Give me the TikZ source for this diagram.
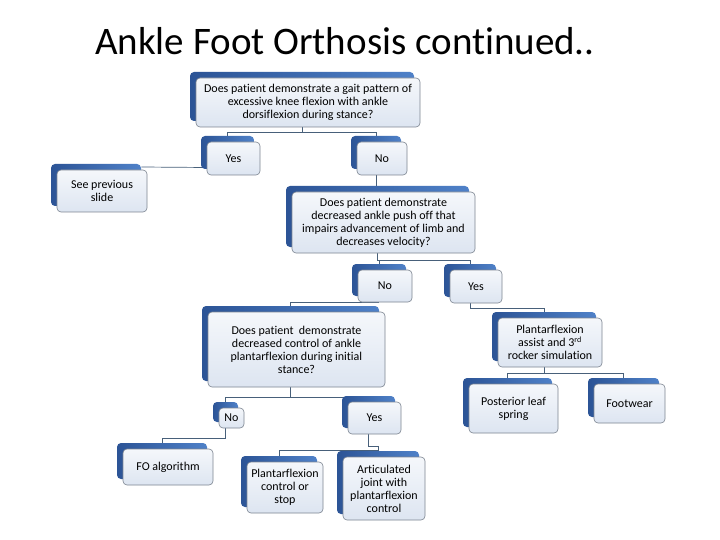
\documentclass[tikz,border=0pt]{standalone}
\usepackage{fontspec}
\setmainfont{Carlito}[Ligatures=NoCommon]
\usepackage{tikz}
\usetikzlibrary{shadows,backgrounds}
\definecolor{backblue}{RGB}{79,129,200}
\definecolor{darkblue}{RGB}{44,84,150}
\definecolor{paleblue}{RGB}{221,229,241}
\definecolor{rimgray}{RGB}{125,133,145}
\definecolor{linkgray}{RGB}{72,96,122}

\begin{document}
\begin{tikzpicture}[x=1pt,y=-1pt,
    box/.style={draw=rimgray, line width=0.6pt, rounded corners=4pt,
      top color=white!70!paleblue, bottom color=paleblue, align=center, inner sep=2pt,
      font=\fontsize{12}{13}\selectfont,
      general shadow={shadow xshift=-6pt, shadow yshift=6pt, left color=darkblue, right color=backblue, draw=none}},
    link/.style={draw=linkgray, line width=0.7pt}]
    \useasboundingbox (0,0) rectangle (720,540);
    \node[font=\fontsize{39}{44}\selectfont, anchor=base] (title) at (345,55) {Ankle Foot Orthosis continued..};

    \node[box, minimum width=224pt, minimum height=49pt] (q1) at (308,102.5) {Does patient demonstrate a gait pattern of\\excessive knee flexion with ankle\\dorsiflexion during stance?};
    \node[box, minimum width=53pt, minimum height=33pt] (yes1) at (233.5,158.5) {Yes};
    \node[box, minimum width=50pt, minimum height=33pt] (no1) at (382,158.5) {No};
    \node[box, minimum width=90pt, minimum height=42pt] (prev) at (102,191) {See previous\\slide};
    \node[box, minimum width=183pt, minimum height=61pt] (q2) at (383.5,222.5) {Does patient demonstrate\\decreased ankle push off that\\impairs advancement of limb and\\decreases velocity?};
    \node[box, minimum width=54pt, minimum height=32pt] (no2) at (385,286) {No};
    \node[box, minimum width=52pt, minimum height=33pt] (yes2) at (476,286.5) {Yes};
    \node[box, minimum width=104pt, minimum height=49pt] (plant) at (550,342.5) {Plantarflexion\\assist and 3\textsuperscript{rd}\\rocker simulation};
    \node[box, minimum width=177pt, minimum height=75pt] (q3) at (296.5,349.5) {Does patient~ demonstrate\\decreased control of ankle\\plantarflexion during initial\\stance?};
    \node[box, minimum width=89pt, minimum height=49pt] (leaf) at (513.5,408.5) {Posterior leaf\\spring};
    \node[box, minimum width=71pt, minimum height=39pt] (foot) at (629.5,403.5) {Footwear};
    \node[box, minimum width=25pt, minimum height=20pt, inner sep=1pt] (no3) at (231.5,418) {No};
    \node[box, minimum width=53pt, minimum height=32pt] (yes3) at (374.5,418) {Yes};
    \node[box, minimum width=90pt, minimum height=36pt] (fo) at (168,467) {FO algorithm};
    \node[box, minimum width=76pt, minimum height=51pt] (pcs) at (285,487.5) {Plantarflexion\\control or\\stop};
    \node[box, minimum width=82pt, minimum height=63pt] (art) at (384,488.5) {Articulated\\joint with\\plantarflexion\\control};

    \begin{scope}[on background layer]
    \fill[white] (0,0) rectangle (720,540);
    \draw[link] ([xshift=-6pt]q1.south) -- ++(0,5) -| ([xshift=-6pt]yes1.north);
    \draw[link] ([xshift=-6pt]q1.south) -- ++(0,5) -| ([xshift=-6pt]no1.north);
    \draw[link] ([yshift=-9pt]yes1.west) -- ([shift={(-6pt,24pt)}]prev.east);
    \draw[link] ([xshift=-6pt]no1.south) -- ([xshift=-6pt]no1.south |- q2.north);
    \draw[link] ([xshift=-6pt]q2.south) -- ++(0,7) -| ([xshift=-6pt]no2.north);
    \draw[link] ([xshift=-6pt]q2.south) -- ++(0,7) -| ([xshift=-6pt]yes2.north);
    \draw[link] ([xshift=-6pt]no2.south) -| ([xshift=-6pt]q3.north);
    \draw[link] ([xshift=-6pt]yes2.south) -- ++(0,5) -| ([xshift=-6pt]plant.north);
    \draw[link] ([xshift=-6pt]plant.south) -- ++(0,6) -| ([xshift=-6pt]leaf.north);
    \draw[link] ([xshift=-6pt]plant.south) -- ++(0,6) -| ([xshift=-6pt]foot.north);
    \draw[link] ([xshift=-6pt]q3.south) -- ++(0,10) -| ([xshift=-6pt]no3.north);
    \draw[link] ([xshift=-6pt]q3.south) -- ++(0,10) -| ([xshift=-6pt]yes3.north);
    \draw[link] ([xshift=-6pt]no3.south) -- ++(0,10) -| ([xshift=-6pt]fo.north);
    \draw[link] ([xshift=-6pt]yes3.south) -- ++(0,12) -| ([shift={(-6pt,6pt)}]art.north) -| ([xshift=-6pt]pcs.north);
    \end{scope}
\end{tikzpicture}
\end{document}
